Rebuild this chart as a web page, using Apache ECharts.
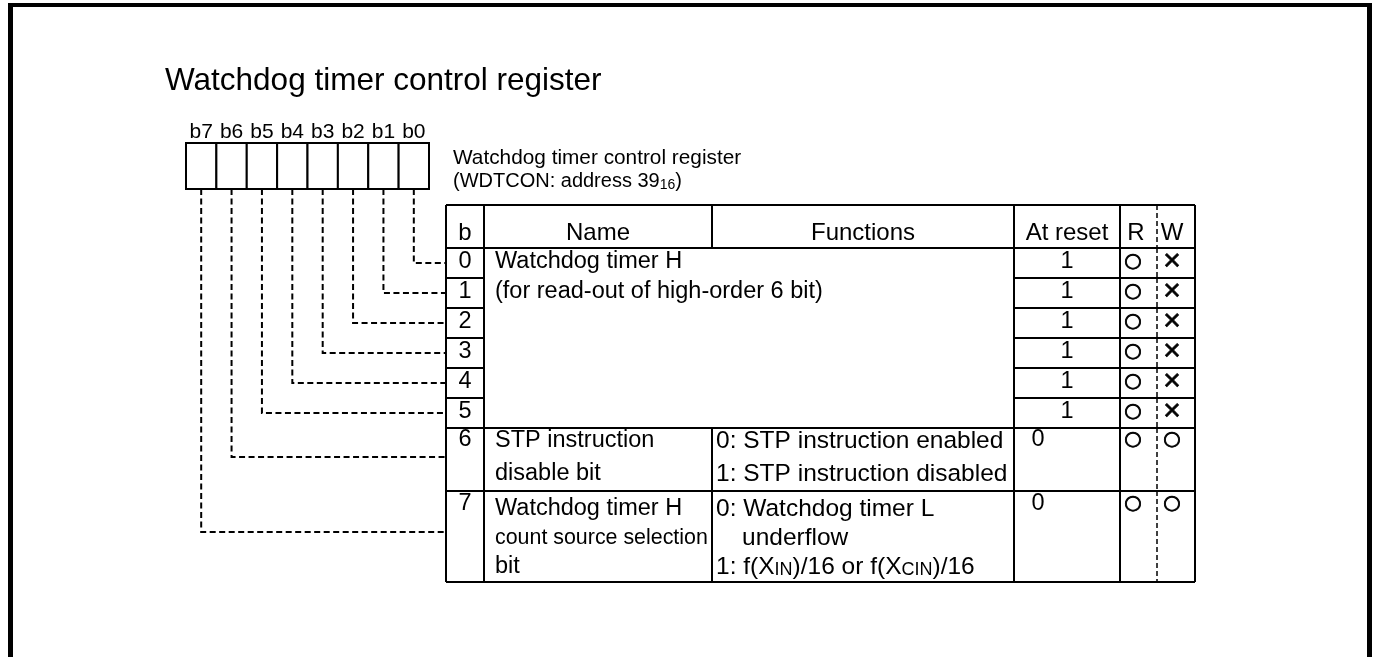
<!DOCTYPE html>
<html><head><meta charset="utf-8">
<script src="https://cdn.jsdelivr.net/npm/echarts@6/dist/echarts.min.js"></script>
<style>html,body{margin:0;padding:0;background:#fff}#c{width:1376px;height:657px}</style>
</head><body><div id="c"></div>
<script>
// ---------------- data ----------------
const chartTitle = 'Watchdog timer control register';
const captionLines = ['Watchdog timer control register', '(WDTCON: address 39{sub|16})'];
const bitLabels = ['b7', 'b6', 'b5', 'b4', 'b3', 'b2', 'b1', 'b0'];
const headers = ['b', 'Name', 'Functions', 'At reset', 'R', 'W'];
const bitNumbers = ['0', '1', '2', '3', '4', '5', '6', '7'];
const names = [
  ['Watchdog timer H', '(for read-out of high-order 6 bit)'],
  [], [], [], [], [],
  ['STP instruction', 'disable bit'],
  ['Watchdog timer H', 'count source selection', 'bit']
];
const functions = [
  [], [], [], [], [], [],
  ['0: STP instruction enabled', '1: STP instruction disabled'],
  ['0: Watchdog timer L', 'underflow', '1: f(X{s|IN})/16 or f(X{s|CIN})/16']
];
const atReset = ['1', '1', '1', '1', '1', '1', '0', '0'];
const readAccess = ['○', '○', '○', '○', '○', '○', '○', '○'];
const writeAccess = ['×', '×', '×', '×', '×', '×', '○', '○'];

// ---------------- layout ----------------
const FONT = '"Liberation Sans", Arial, Helvetica, sans-serif';
const COL = [446, 484, 712, 1014, 1120, 1157, 1195];
const HEAD_TOP = 205, HEAD_H = 43;
const ROW_H = [30, 30, 30, 30, 30, 30, 63, 91];
const TEXT_Y = {0: [14, 44], 6: [13, 46], 7: [18, 47, 76]};
const TOP_Y = {6: 12, 7: 13};
const NAME_SIZE = {7: [23.5, 21.4, 23.5]};
const FUNC_INDENT = {7: [0, 26, 0]};
const REG_LEFT = 186, REG_RIGHT = 429, REG_TOP = 143, REG_BOTTOM = 189;
const REG_W = (REG_RIGHT - REG_LEFT) / 8;
const CONN_Y = [15, 15, 15, 15, 15, 15, 29, 41];
const TS = 23.5, FS = 24.5;

function rowTop(i) { let y = HEAD_TOP + HEAD_H; for (let k = 0; k < i; k++) y += ROW_H[k]; return y; }

const chart = echarts.init(document.getElementById('c'), null, {renderer: 'canvas'});

function L(api, x1, y1, x2, y2, dash, w) {
  const a = api.coord([x1, y1]), b = api.coord([x2, y2]);
  return {type: 'line', shape: {x1: a[0], y1: a[1], x2: b[0], y2: b[1]},
    style: {stroke: '#000', lineWidth: w || 2, lineDash: dash || null}};
}
function T(api, x, y, text, opt) {
  opt = opt || {};
  const p = api.coord([x, y]);
  const st = {
    text: text, fill: '#000', fontSize: opt.size || TS, fontFamily: opt.family || FONT,
    fontWeight: opt.weight || 'normal',
    align: opt.align || 'left', verticalAlign: 'middle'
  };
  if (opt.rich) st.rich = opt.rich;
  if (opt.stroke) { st.stroke = '#000'; st.lineWidth = opt.stroke; }
  return {type: 'text', x: p[0], y: p[1], style: st};
}
const smallRich = (size, lh) => ({s: {fontSize: size, fontFamily: FONT, fill: '#000', verticalAlign: 'bottom', lineHeight: lh},
                                   sub: {fontSize: size, fontFamily: FONT, fill: '#000', verticalAlign: 'bottom', lineHeight: lh}});
const GLYPH = {'○': {size: 20, family: '"DejaVu Sans", sans-serif', stroke: 0.9},
               '×': {size: 30, family: FONT, stroke: 0.7}};

function renderRegister(params, api) {
  const c = api.value(0);
  const x0 = REG_LEFT + c * REG_W, cx = x0 + REG_W / 2;
  const bit = 7 - c;
  const p0 = api.coord([x0, REG_TOP]), p1 = api.coord([x0 + REG_W, REG_BOTTOM]);
  const cy = rowTop(bit) + CONN_Y[bit];
  const a = api.coord([cx, REG_BOTTOM]), b = api.coord([cx, cy]), d = api.coord([COL[0], cy]);
  return {type: 'group', children: [
    {type: 'rect', shape: {x: p0[0], y: p0[1], width: p1[0] - p0[0], height: p1[1] - p0[1]},
      style: {fill: '#fff', stroke: '#000', lineWidth: 2}},
    T(api, cx, 132, bitLabels[c], {size: 21, align: 'center'}),
    {type: 'polyline', shape: {points: [a, b, d]},
      style: {stroke: '#000', lineWidth: 2, lineDash: [6, 3.5], fill: null}}
  ]};
}

function renderTable(params, api) {
  const r = api.value(0);
  const ch = [];
  if (r < 0) {
    const y0 = HEAD_TOP, y1 = HEAD_TOP + HEAD_H;
    ch.push(L(api, COL[0], y0, COL[6], y0));
    [0, 1, 2, 3, 4, 6].forEach(k => ch.push(L(api, COL[k], y0, COL[k], y1)));
    ch.push(L(api, COL[5], y0, COL[5], y1, [5, 3], 1.5));
    const hx = [(COL[0] + COL[1]) / 2, (COL[1] + COL[2]) / 2, (COL[2] + COL[3]) / 2, (COL[3] + COL[4]) / 2, 1136, 1172];
    headers.forEach((h, k) => ch.push(T(api, hx[k], 233, h, {align: 'center', size: 24})));
    return {type: 'group', children: ch};
  }
  const y0 = rowTop(r), h = ROW_H[r], y1 = y0 + h;
  if (r === 0 || r >= 6) ch.push(L(api, COL[0], y0, COL[6], y0));
  else { ch.push(L(api, COL[0], y0, COL[1], y0)); ch.push(L(api, COL[3], y0, COL[6], y0)); }
  [0, 1, 3, 4, 6].forEach(k => ch.push(L(api, COL[k], y0, COL[k], y1)));
  if (r >= 6) ch.push(L(api, COL[2], y0, COL[2], y1));
  ch.push(L(api, COL[5], y0, COL[5], y1, [5, 3], 1.5));
  if (r === 7) ch.push(L(api, COL[0], y1, COL[6], y1));
  const ty = r < 6 ? y0 + h / 2 - 1 : y0 + TOP_Y[r];
  ch.push(T(api, (COL[0] + COL[1]) / 2, ty, bitNumbers[r], {align: 'center'}));
  const offs = TEXT_Y[r] || [];
  names[r].forEach((t, k) => ch.push(T(api, 495, y0 + offs[k], t, {size: (NAME_SIZE[r] || [])[k] || TS})));
  functions[r].forEach((t, k) => ch.push(T(api, 716 + ((FUNC_INDENT[r] || [])[k] || 0), y0 + offs[k], t,
    {size: FS, rich: smallRich(18, 25)})));
  ch.push(T(api, r < 6 ? 1067 : 1038, ty, atReset[r], {align: 'center'}));
  ch.push(T(api, 1133, ty, readAccess[r], Object.assign({align: 'center'}, GLYPH[readAccess[r]])));
  ch.push(T(api, 1172, ty, writeAccess[r], Object.assign({align: 'center'}, GLYPH[writeAccess[r]])));
  return {type: 'group', children: ch};
}

chart.setOption({
  animation: false,
  backgroundColor: '#fff',
  title: {text: chartTitle, left: 160, top: 60, textStyle: {fontSize: 31.5, fontWeight: 'normal', color: '#000', fontFamily: FONT}},
  grid: {left: 0, right: 0, top: 0, bottom: 0},
  xAxis: {type: 'value', min: 0, max: 1376, show: false},
  yAxis: {type: 'value', min: 0, max: 657, inverse: true, show: false},
  graphic: [
    {type: 'rect', shape: {x: 8, y: 3, width: 1364, height: 4}, style: {fill: '#000'}},
    {type: 'rect', shape: {x: 8, y: 3, width: 5, height: 660}, style: {fill: '#000'}},
    {type: 'rect', shape: {x: 1367, y: 3, width: 5, height: 660}, style: {fill: '#000'}},
    {type: 'text', x: 453, y: 158, style: {text: captionLines[0], fontSize: 20.8, fontFamily: FONT, fill: '#000', verticalAlign: 'middle'}},
    {type: 'text', x: 453, y: 181, style: {text: captionLines[1], fontSize: 20, fontFamily: FONT, fill: '#000', verticalAlign: 'middle', rich: smallRich(14, 22)}}
  ],
  series: [
    {type: 'custom', name: 'register', coordinateSystem: 'cartesian2d', silent: true,
      data: bitLabels.map((b, i) => [i, 0]), renderItem: renderRegister},
    {type: 'custom', name: 'table', coordinateSystem: 'cartesian2d', silent: true,
      data: [-1].concat(bitNumbers.map((b, i) => i)).map(v => [v, 0]), renderItem: renderTable}
  ]
});
</script></body></html>
